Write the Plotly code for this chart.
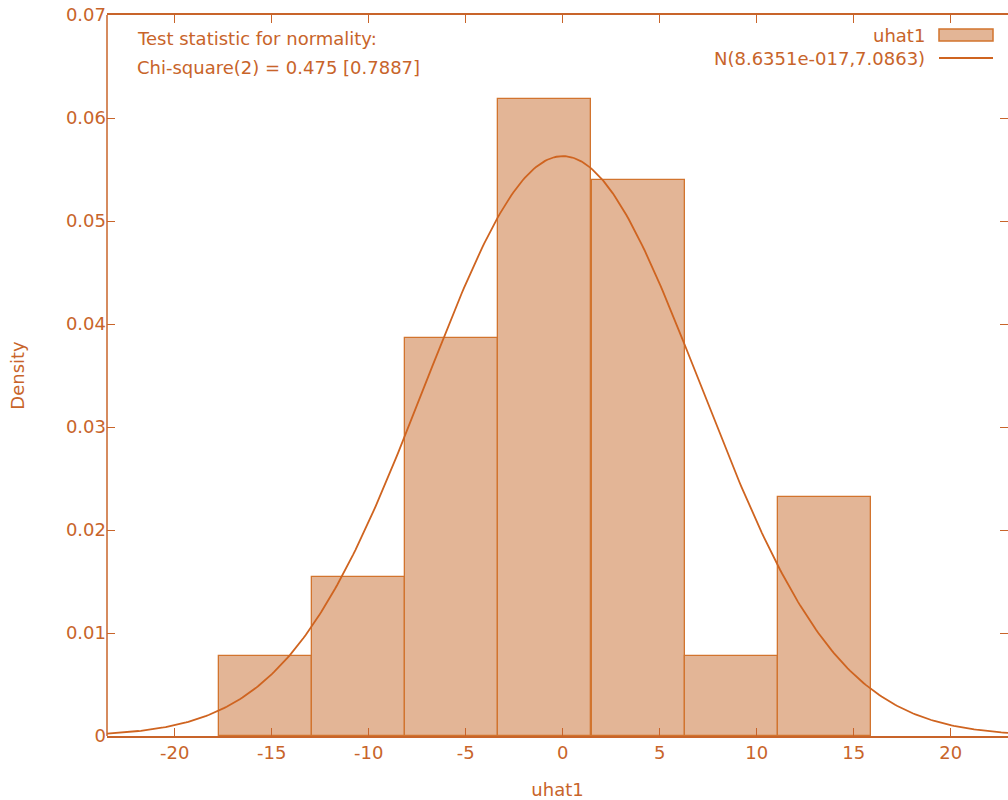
import numpy as np
import plotly.graph_objects as go

# ---- data ----
bin_centers = [-15.31, -10.51, -5.73, -0.94, 3.90, 8.68, 13.47]
bin_width = 4.797
densities = [0.00772, 0.01544, 0.0386, 0.0618, 0.0540, 0.00772, 0.0232]
norm_mean = 8.6351e-17
norm_sd = 7.0863
x_ticks = [-20, -15, -10, -5, 0, 5, 10, 15, 20]
x_tick_labels = ["-20", "-15", "-10", "-5", "0", "5", "10", "15", "20"]
y_ticks = [0, 0.01, 0.02, 0.03, 0.04, 0.05, 0.06, 0.07]
y_tick_labels = ["0", "0.01", "0.02", "0.03", "0.04", "0.05", "0.06", "0.07"]
x_range = [-23.49, 22.95]
y_range = [0, 0.07]

TXT = "#c8642a"
LINE = "#cf6420"
FILL = "#e3b596"
EDGE = "#d2742e"
FONT = "DejaVu Sans"
FS = 18

# fitted normal density from the stated parameters
curve_x = np.linspace(x_range[0], x_range[1], 400)
curve_y = np.exp(-0.5 * ((curve_x - norm_mean) / norm_sd) ** 2) / (norm_sd * np.sqrt(2 * np.pi))

fig = go.Figure()
fig.add_trace(go.Bar(
    x=bin_centers, y=densities, width=[bin_width] * len(bin_centers),
    marker=dict(color=FILL, line=dict(color=EDGE, width=1.3)),
    name="uhat1", showlegend=False,
))
fig.add_trace(go.Scatter(
    x=curve_x, y=curve_y, mode="lines",
    line=dict(color=LINE, width=1.8),
    name="N(8.6351e-017,7.0863)", showlegend=False,
))

axis_common = dict(
    ticks="inside", ticklen=8, tickcolor=TXT, tickwidth=1.3,
    mirror="allticks", showgrid=False, zeroline=False,
    tickfont=dict(family=FONT, size=FS, color=TXT),
)
fig.update_xaxes(range=x_range, tickvals=x_ticks, ticktext=x_tick_labels,
                 showline=True, linecolor=TXT, linewidth=1.5,
                 title=dict(text="uhat1", font=dict(family=FONT, size=FS, color=TXT), standoff=23),
                 **axis_common)
fig.update_yaxes(range=y_range, tickvals=y_ticks, ticktext=y_tick_labels, showline=False,
                 title=dict(text="Density", font=dict(family=FONT, size=FS, color=TXT), standoff=36),
                 **axis_common)

# left border line
fig.add_shape(type="line", xref="paper", yref="paper", x0=0, x1=0, y0=0, y1=1,
              line=dict(color=TXT, width=1.5))

PW, PH, L, B = 901, 721, 107, 736
def px(xp):
    return (xp - L) / PW
def py(yp):
    return (B - yp) / PH

# legend drawn manually (text right, sample on the right)
fig.add_annotation(xref="paper", yref="paper", x=px(927), y=py(36),
                   text="uhat1", showarrow=False, xanchor="right", yanchor="middle",
                   font=dict(family=FONT, size=FS, color=TXT))
fig.add_shape(type="rect", xref="paper", yref="paper",
              x0=px(939), x1=px(993), y0=py(41), y1=py(29),
              fillcolor=FILL, line=dict(color=EDGE, width=1.5))
fig.add_annotation(xref="paper", yref="paper", x=px(927), y=py(59),
                   text="N(8.6351e-017,7.0863)", showarrow=False, xanchor="right", yanchor="middle",
                   font=dict(family=FONT, size=FS, color=TXT))
fig.add_shape(type="line", xref="paper", yref="paper",
              x0=px(939), x1=px(993), y0=py(58), y1=py(58),
              line=dict(color=LINE, width=1.8))

# test statistic text
fig.add_annotation(xref="paper", yref="paper", x=px(135), y=py(39),
                   text="Test statistic for normality:", showarrow=False, xanchor="left", yanchor="middle",
                   font=dict(family=FONT, size=FS, color=TXT))
fig.add_annotation(xref="paper", yref="paper", x=px(135), y=py(68),
                   text="Chi-square(2) = 0.475 [0.7887]", showarrow=False, xanchor="left", yanchor="middle",
                   font=dict(family=FONT, size=FS, color=TXT))

fig.update_layout(
    width=1008, height=800,
    margin=dict(l=L, r=0, t=15, b=64),
    plot_bgcolor="white", paper_bgcolor="white",
    bargap=0, showlegend=False,
)

fig.write_html("out.html", config={"displayModeBar": False},
               post_script="document.body.style.margin='0';")
